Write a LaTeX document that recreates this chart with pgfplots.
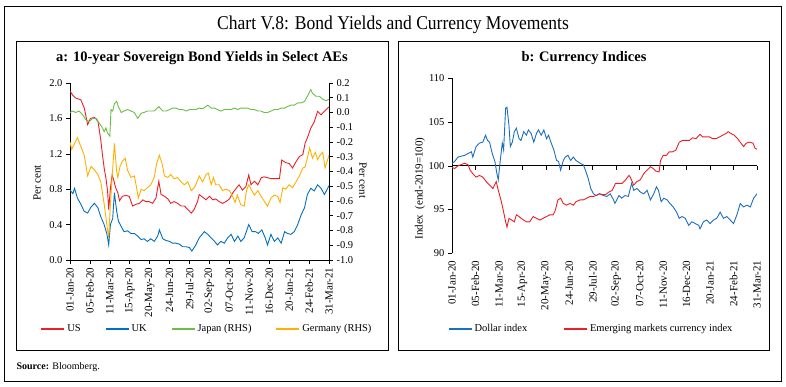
\documentclass[border=0pt]{standalone}
\usepackage{fontspec}
\setmainfont{Liberation Serif}
\usepackage{graphicx}
\usepackage{pgfplots}
\pgfplotsset{compat=1.18}
\definecolor{cred}{RGB}{235,32,38}
\definecolor{cblue}{RGB}{0,112,192}
\definecolor{cgreen}{RGB}{106,190,69}
\definecolor{corange}{RGB}{255,176,0}
\definecolor{cblueb}{RGB}{28,110,190}

\pgfplotsset{
  common/.style={
    scale only axis, anchor=south west,
    xmin=0, xmax=455,
    xtick={0,35,70,105,140,175,210,245,280,315,350,385,420,455},
    xticklabels={01-Jan-20,05-Feb-20,11-Mar-20,15-Apr-20,20-May-20,24-Jun-20,29-Jul-20,02-Sep-20,07-Oct-20,11-Nov-20,16-Dec-20,20-Jan-21,24-Feb-21,31-Mar-21},
    tick align=outside,
    major tick length=4pt,
    tick style={black, line width=0.6pt},
    axis line style={black, line width=0.6pt, -},
    /pgf/number format/assume math mode=true,
    ticklabel style={font=\fontsize{10.5}{11}\selectfont},
    xticklabel style={rotate=90, anchor=east, font=\fontsize{11}{12}\selectfont},
    legend style={draw=none, fill=none, font=\fontsize{10.5}{12}\selectfont,
      /tikz/every even column/.append style={column sep=22pt}},
    legend image code/.code={\draw[#1, line width=1.8pt] (0pt,0pt) -- (23pt,0pt);},
  }
}

\begin{document}
\begin{tikzpicture}
\useasboundingbox (0pt,0pt) rectangle (786pt,386pt);
\draw[line width=0.8pt] (4pt,5pt) rectangle (781pt,380pt);
\draw[line width=0.8pt] (16pt,36pt) rectangle (388pt,345pt);
\draw[line width=0.8pt] (398pt,36pt) rectangle (769pt,345pt);
\node[font=\fontsize{19.5}{22}\selectfont] at (393pt,361pt) {\scalebox{0.9}[1]{Chart V.8: Bond Yields and Currency Movements}};
\node[font=\bfseries\fontsize{14.5}{16}\selectfont] at (202pt,328pt) {a: 10-year Sovereign Bond Yields in Select AEs};
\node[font=\bfseries\fontsize{14.5}{16}\selectfont] at (584pt,328pt) {b: Currency Indices};
\node[anchor=west, font=\fontsize{10}{12}\selectfont] at (13pt,19pt) {\textbf{Source:} Bloomberg.};

% ---------- Panel a, left axis ----------
\begin{axis}[common, at={(70pt,126pt)}, width=259pt, height=177pt,
  ymin=0, ymax=2, ytick={0,0.4,0.8,1.2,1.6,2.0},
  axis x line*=bottom, axis y line*=left,
  yticklabel style={/pgf/number format/fixed, /pgf/number format/fixed zerofill, /pgf/number format/precision=1},
  ylabel={Per cent},
  every axis y label/.style={at={(axis description cs:-0.127,0.435)}, rotate=90, anchor=center, font=\fontsize{11}{12}\selectfont},
  legend columns=4,
  legend style={at={(axis description cs:0.529,-0.39)}, anchor=center},
]
\addplot[cred, line width=0.9pt] coordinates {
(0,1.91)(5,1.86)(10,1.83)(19,1.81)(25,1.72)(31,1.53)(36,1.60)(43,1.61)(49,1.57)(51,1.49)(54,1.36)(57,1.19)(60,1.04)(63,0.93)(66,0.78)(68,0.57)(71,0.81)(74,0.96)(77,0.90)(80,0.82)(84,0.76)(87,0.67)(92,0.72)(98,0.73)(104,0.72)(110,0.61)(116,0.63)(122,0.64)(128,0.68)(133,0.66)(139,0.66)(145,0.64)(151,0.70)(156,0.89)(160,0.74)(166,0.72)(172,0.69)(177,0.64)(183,0.66)(189,0.64)(195,0.61)(201,0.61)(207,0.57)(213,0.53)(218,0.57)(224,0.66)(227,0.74)(233,0.71)(239,0.68)(245,0.72)(251,0.68)(256,0.69)(262,0.66)(268,0.64)(274,0.66)(280,0.69)(286,0.76)(292,0.81)(297,0.85)(303,0.79)(309,0.83)(314,0.96)(318,0.85)(324,0.89)(330,0.85)(336,0.93)(341,0.94)(347,0.93)(353,0.92)(359,0.92)(368,0.92)(372,1.13)(379,1.10)(385,1.09)(391,1.04)(397,1.11)(403,1.17)(409,1.19)(413,1.32)(417,1.38)(423,1.49)(429,1.56)(435,1.68)(441,1.64)(447,1.68)(455,1.73)
};
\addlegendentry{US}
\addplot[cblue, line width=0.9pt] coordinates {
(0,0.79)(5,0.75)(8,0.81)(13,0.70)(19,0.63)(25,0.55)(31,0.53)(37,0.60)(43,0.64)(49,0.59)(54,0.49)(60,0.40)(65,0.29)(68,0.17)(71,0.40)(75,0.47)(78,0.76)(82,0.55)(85,0.44)(89,0.39)(95,0.32)(101,0.33)(107,0.30)(113,0.30)(119,0.27)(125,0.23)(130,0.24)(136,0.21)(142,0.24)(148,0.21)(154,0.27)(157,0.34)(163,0.24)(169,0.22)(175,0.21)(180,0.19)(186,0.19)(192,0.18)(198,0.15)(204,0.15)(210,0.14)(214,0.10)(221,0.17)(227,0.25)(236,0.32)(242,0.29)(248,0.25)(254,0.21)(259,0.17)(265,0.21)(271,0.19)(277,0.25)(283,0.29)(289,0.21)(295,0.27)(300,0.21)(306,0.25)(314,0.40)(320,0.32)(326,0.32)(331,0.30)(337,0.34)(343,0.25)(347,0.17)(353,0.29)(359,0.21)(365,0.25)(371,0.19)(377,0.32)(382,0.30)(388,0.29)(394,0.32)(400,0.40)(406,0.51)(412,0.59)(417,0.74)(423,0.81)(429,0.78)(435,0.85)(441,0.81)(447,0.74)(455,0.84)
};
\addlegendentry{UK}
\addlegendimage{cgreen}
\addlegendentry{Japan (RHS)}
\addlegendimage{corange}
\addlegendentry{Germany (RHS)}
\end{axis}

% ---------- Panel a, right axis ----------
\begin{axis}[common, at={(70pt,126pt)}, width=259pt, height=177pt,
  ymin=-1, ymax=0.2,
  ytick={-1,-0.9,-0.8,-0.7,-0.6,-0.5,-0.4,-0.3,-0.2,-0.1,0,0.1,0.2},
  axis x line=none, axis y line*=right,
  yticklabel style={/pgf/number format/fixed, /pgf/number format/fixed zerofill, /pgf/number format/precision=1},
  ylabel={Per cent},
  every axis y label/.style={at={(axis description cs:1.131,0.45)}, rotate=-90, anchor=center, font=\fontsize{11}{12}\selectfont},
]
\addplot[cgreen, line width=0.9pt] coordinates {
(0,0.00)(5,0.01)(10,0.00)(16,0.01)(22,-0.015)(28,-0.05)(34,-0.06)(40,-0.04)(46,-0.04)(51,-0.07)(57,-0.105)(60,-0.13)(63,-0.105)(66,-0.14)(70,-0.16)(72,0.02)(75,0.01)(78,0.06)(82,0.075)(85,0.04)(90,0.00)(95,0.01)(101,0.02)(107,0.01)(113,0.00)(119,-0.04)(125,-0.005)(130,0.00)(136,0.01)(142,0.01)(148,0.01)(156,0.04)(163,0.01)(169,0.01)(175,0.02)(180,0.03)(186,0.03)(192,0.02)(198,0.02)(204,0.01)(210,0.02)(216,0.02)(221,0.02)(227,0.03)(233,0.025)(242,0.05)(248,0.03)(254,0.03)(259,0.02)(265,0.01)(271,0.02)(277,0.02)(283,0.02)(289,0.03)(295,0.02)(300,0.03)(306,0.03)(312,0.03)(318,0.02)(324,0.02)(330,0.01)(336,0.01)(341,0.00)(347,0.00)(353,0.01)(359,0.02)(365,0.02)(371,0.03)(377,0.03)(382,0.04)(388,0.05)(394,0.05)(400,0.065)(406,0.065)(412,0.075)(417,0.11)(423,0.155)(426,0.13)(432,0.11)(438,0.11)(444,0.09)(450,0.08)(455,0.09)
};
\addplot[corange, line width=0.9pt] coordinates {
(0,-0.20)(3,-0.25)(8,-0.21)(13,-0.17)(19,-0.23)(25,-0.29)(31,-0.43)(37,-0.365)(43,-0.39)(49,-0.42)(54,-0.47)(60,-0.62)(64,-0.74)(68,-0.85)(71,-0.62)(74,-0.44)(78,-0.21)(82,-0.40)(84,-0.44)(88,-0.365)(92,-0.33)(97,-0.31)(101,-0.39)(107,-0.44)(113,-0.43)(116,-0.49)(120,-0.58)(125,-0.52)(130,-0.53)(136,-0.51)(142,-0.49)(148,-0.44)(152,-0.35)(157,-0.29)(162,-0.35)(166,-0.43)(172,-0.44)(177,-0.42)(183,-0.45)(189,-0.44)(195,-0.47)(201,-0.49)(207,-0.47)(213,-0.53)(218,-0.51)(221,-0.49)(227,-0.43)(233,-0.47)(239,-0.42)(243,-0.41)(248,-0.49)(252,-0.44)(256,-0.49)(262,-0.49)(268,-0.53)(274,-0.52)(280,-0.53)(286,-0.57)(290,-0.61)(294,-0.56)(300,-0.625)(306,-0.635)(310,-0.53)(314,-0.49)(318,-0.52)(324,-0.56)(330,-0.53)(336,-0.57)(341,-0.60)(347,-0.635)(353,-0.58)(359,-0.56)(365,-0.57)(369,-0.61)(374,-0.51)(379,-0.52)(385,-0.49)(391,-0.51)(397,-0.47)(403,-0.43)(409,-0.376)(413,-0.37)(417,-0.31)(421,-0.24)(426,-0.31)(431,-0.27)(435,-0.32)(439,-0.29)(444,-0.27)(448,-0.376)(455,-0.29)
};
\end{axis}

% ---------- Panel b, reference line at 100 ----------
\begin{axis}[scale only axis, anchor=south west, at={(452pt,132.7pt)}, width=305pt, height=175pt,
  xmin=0, xmax=455, ymin=-10, ymax=10,
  axis x line=middle, axis y line=none,
  xtick={0,35,70,105,140,175,210,245,280,315,350,385,420,455}, xticklabels={},
  ytick=\empty,
  tick align=outside, major tick length=4pt,
  tick style={black, line width=0.6pt},
  axis line style={black, line width=0.6pt, -},
]
\end{axis}

% ---------- Panel b ----------
\begin{axis}[common, at={(452pt,132.7pt)}, width=305pt, height=175pt,
  ymin=90, ymax=110, ytick={90,95,100,105,110},
  axis x line*=bottom, axis y line*=left,
  x axis line style={draw=none}, xtick style={draw=none},
  ylabel={Index\ \ (end-2019=100)},
  every axis y label/.style={at={(axis description cs:-0.105,0.37)}, rotate=90, anchor=center, font=\fontsize{11}{12}\selectfont},
  legend columns=2,
  legend style={at={(axis description cs:0.456,-0.433)}, anchor=center,
    /tikz/every even column/.append style={column sep=34pt}},
]
\addplot[cblueb, line width=0.9pt] coordinates {
(0,100.27)(4,100.5)(9,101.0)(14,101.1)(19,101.2)(24,101.4)(29,101.6)(31,101.0)(36,102.2)(41,102.6)(46,102.7)(50,103.5)(53,102.9)(56,102.7)(60,101.4)(64,100.5)(67,99.1)(69,98.4)(72,100.6)(75,102.6)(77,101.8)(80,106.6)(82,106.7)(85,104.6)(87,102.2)(90,102.7)(93,103.9)(96,104.3)(100,103.1)(103,102.9)(107,103.9)(111,103.5)(114,104.1)(118,103.7)(122,102.7)(126,103.7)(129,104.1)(133,103.5)(137,104.1)(141,103.1)(144,103.5)(148,102.6)(152,101.8)(156,100.6)(159,100.5)(162,99.5)(166,100.6)(169,101.0)(173,101.2)(177,100.6)(181,101.0)(185,100.6)(191,100.3)(196,100.1)(199,99.5)(203,98.6)(207,97.4)(211,96.8)(215,96.6)(220,96.8)(226,96.6)(231,96.5)(236,96.8)(241,96.1)(243,95.7)(249,96.6)(253,96.3)(258,96.6)(263,96.5)(268,98.0)(271,97.2)(276,97.4)(281,97.0)(286,96.8)(291,97.2)(296,96.1)(301,96.8)(305,97.6)(308,97.2)(312,95.9)(316,96.3)(321,96.1)(325,95.7)(330,95.3)(335,94.7)(339,94.0)(343,94.2)(348,94.0)(353,93.2)(358,93.6)(363,93.4)(368,93.2)(370,92.8)(375,93.6)(380,93.8)(385,93.4)(390,93.8)(395,94.0)(400,94.7)(405,94.0)(410,94.2)(415,93.8)(420,93.4)(425,94.4)(430,95.7)(435,95.3)(440,95.5)(445,95.3)(450,96.3)(455,96.8)
};
\addlegendentry{Dollar index}
\addplot[cred, line width=0.9pt] coordinates {
(0,99.8)(4,99.7)(9,100.0)(14,100.15)(19,100.3)(24,100.1)(27,99.5)(31,99.1)(36,98.7)(41,98.9)(46,98.7)(51,98.2)(56,97.8)(61,97.4)(66,98.2)(69,97.2)(73,96.1)(76,95.1)(80,93.6)(82,93.0)(85,94.0)(89,93.8)(93,93.6)(96,94.4)(100,94.2)(103,94.0)(107,93.8)(111,93.6)(116,93.6)(121,94.2)(126,94.0)(131,93.8)(136,94.0)(141,94.2)(146,94.4)(151,94.4)(154,94.9)(158,96.1)(162,96.3)(166,95.7)(171,95.5)(176,95.7)(181,95.5)(185,95.9)(191,96.1)(196,96.1)(201,96.3)(206,96.5)(211,96.5)(215,96.6)(220,96.8)(225,96.7)(229,96.7)(234,97.0)(239,97.2)(244,98.0)(249,98.0)(254,98.0)(259,98.4)(264,98.9)(266,98.7)(271,97.8)(276,98.2)(281,98.4)(286,99.1)(291,99.5)(296,99.9)(300,99.7)(304,99.4)(309,99.3)(311,100.6)(315,101.2)(320,101.2)(324,101.6)(329,101.6)(334,101.8)(339,102.7)(344,102.9)(349,102.9)(354,102.9)(359,103.2)(364,103.1)(370,103.6)(374,103.3)(379,103.3)(384,103.3)(389,103.1)(394,103.1)(399,103.3)(404,103.5)(409,103.7)(412,103.9)(416,103.7)(421,103.5)(426,103.1)(431,102.6)(435,102.2)(439,102.6)(444,102.7)(449,102.6)(452,102.0)(455,101.9)
};
\addlegendentry{Emerging markets currency index}
\end{axis}
\end{tikzpicture}
\end{document}
